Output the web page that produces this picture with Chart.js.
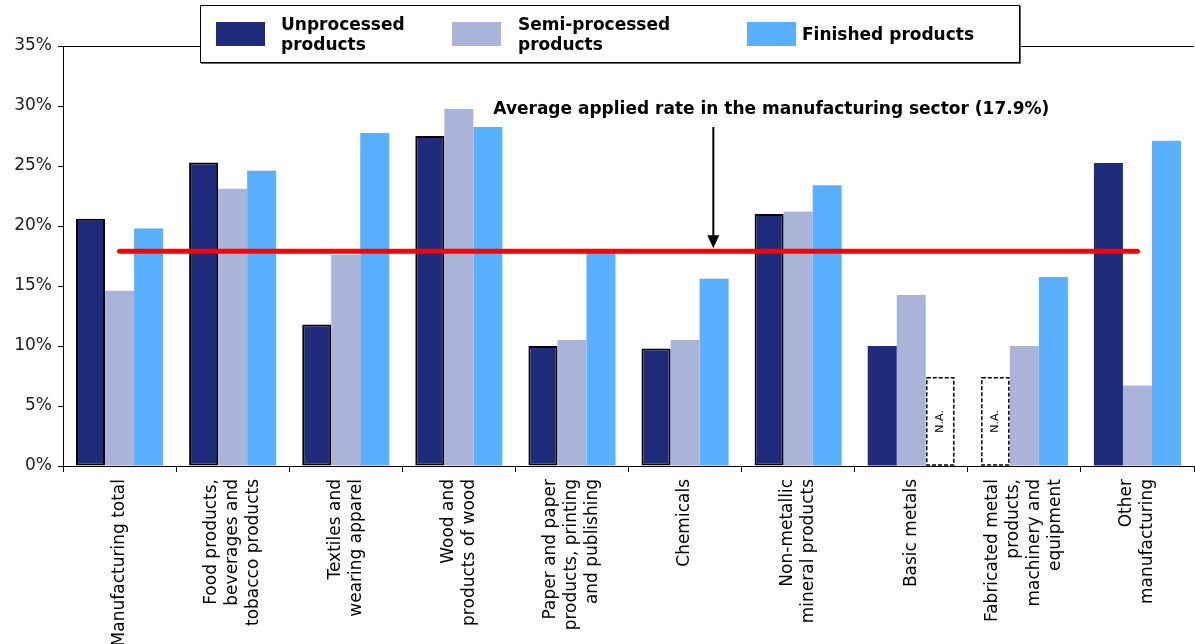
<!DOCTYPE html>
<html>
<head>
<meta charset="utf-8">
<script src="https://cdn.jsdelivr.net/npm/chart.js@4.4.1/dist/chart.umd.min.js"></script>
<style>
html, body { margin: 0; padding: 0; background: #fff; }
#wrap { position: relative; width: 1195px; height: 644px; }
#legendBox {
	position: absolute; left: 200px; top: 5px; width: 818px; height: 56px;
	border: 1px solid #000; box-shadow: 1px 1px 0 #666; background: #fff;
	font: bold 17px "DejaVu Sans", Verdana, sans-serif; color: #000;
}
.item { position: absolute; top: 0; height: 56px; display: flex; align-items: center; }
.swatch { width: 49px; height: 24px; flex: none; }
.txt { line-height: 20px; }
</style>
</head>
<body>
<div id="wrap">
	<canvas id="tariffChart" width="1195" height="644"></canvas>
	<div id="legendBox"></div>
</div>
<script>
// categories (x axis)
const categories = [
	["Manufacturing total"],
	["Food products,", "beverages and", "tobacco products"],
	["Textiles and", "wearing apparel"],
	["Wood and", "products of wood"],
	["Paper and paper", "products, printing", "and publishing"],
	["Chemicals"],
	["Non-metallic", "mineral products"],
	["Basic metals"],
	["Fabricated metal", "products,", "machinery and", "equipment"],
	["Other", "manufacturing"]
];

const seriesNames = ["Unprocessed\nproducts", "Semi-processed\nproducts", "Finished products"];

// applied rates, % (null = N.A.)
const unprocessed = [20.6, 25.3, 11.8, 27.5, 10.0, 9.8, 21.0, 10.0, null, 25.25];
const semiProcessed = [14.6, 23.1, 17.6, 29.75, 10.5, 10.5, 21.2, 14.25, 10.0, 6.7];
const finished = [19.8, 24.6, 27.75, 28.25, 17.8, 15.6, 23.4, null, 15.75, 27.1];

// manufacturing average
const avgLabel = "Average applied rate in the manufacturing sector (17.9%)";
const avgLine = [17.9, 17.9, 17.9, 17.9, 17.9, 17.9, 17.9, 17.9, 17.9, 17.9];

// height of the dashed N.A. boxes
const naHeight = 7.35;

// y axis ticks
const yMin = 0;
const yMax = 35;
const yStep = 5;

const seriesColors = ["#1f2b7b", "#aab3d8", "#58b0ff"];
const outlinedGroups = [0, 1, 2, 3, 4, 5, 6];

// legend (html, two-line labels)
let legendBox = document.getElementById("legendBox");
let legendPos = [[15, 80], [251, 317], [546, 601]];
seriesNames.forEach((name, i) => {
	let sw = "<div class=\"item\" style=\"left:" + legendPos[i][0] + "px\"><div class=\"swatch\" style=\"background:" + seriesColors[i] + "\"></div></div>";
	let tx = "<div class=\"item\" style=\"left:" + legendPos[i][1] + "px\"><div class=\"txt\">" + name.replace("\n", "<br>") + "</div></div>";
	legendBox.innerHTML += sw + tx;
});

Chart.defaults.font.family = '"DejaVu Sans", Verdana, sans-serif';
Chart.defaults.color = "#000";

const extrasPlugin = {
	id: "extras",
	afterDatasetsDraw(chart) {
		const ctx = chart.ctx;
		const area = chart.chartArea;
		const yScale = chart.scales.y;
		const xScale = chart.scales.x;

		// top frame line
		ctx.save();
		ctx.strokeStyle = "#000";
		ctx.lineWidth = 1;
		ctx.beginPath();
		ctx.moveTo(area.left, area.top + 0.5);
		ctx.lineTo(area.right, area.top + 0.5);
		ctx.stroke();

		// N.A. boxes
		[0, 1, 2].forEach(di => {
			let meta = chart.getDatasetMeta(di);
			chart.data.datasets[di].data.forEach((v, j) => {
				if (v !== null) return;
				let el = meta.data[j];
				let x0 = el.x - el.width / 2 + 1;
				let x1 = el.x + el.width / 2 - 1;
				let y0 = yScale.getPixelForValue(naHeight);
				let y1 = yScale.getPixelForValue(0) - 1;
				ctx.setLineDash([4, 2]);
				ctx.lineWidth = 1.5;
				ctx.strokeStyle = "#000";
				ctx.fillStyle = "#fff";
				ctx.fillRect(x0, y0, x1 - x0, y1 - y0);
				ctx.strokeRect(x0, y0, x1 - x0, y1 - y0);
				ctx.setLineDash([]);
				ctx.save();
				ctx.translate(el.x, (y0 + y1) / 2);
				ctx.rotate(-Math.PI / 2);
				ctx.fillStyle = "#000";
				ctx.font = '11px "DejaVu Sans", Verdana, sans-serif';
				ctx.textAlign = "center";
				ctx.textBaseline = "middle";
				ctx.fillText("N.A.", 0, 0);
				ctx.restore();
			});
		});

		// category labels, rotated, block centred on the tick
		ctx.fillStyle = "#000";
		ctx.font = '17px "DejaVu Sans", Verdana, sans-serif';
		ctx.textAlign = "right";
		ctx.textBaseline = "middle";
		let lh = 21;
		categories.forEach((lines, i) => {
			let cx = xScale.getPixelForValue(i);
			lines.forEach((line, k) => {
				ctx.save();
				ctx.translate(cx + (k - (lines.length - 1) / 2) * lh, area.bottom + 13);
				ctx.rotate(-Math.PI / 2);
				ctx.fillText(line, 0, 0);
				ctx.restore();
			});
		});

		// arrow + label for the average line
		let ax = xScale.getPixelForValue(5.25);
		let tipY = yScale.getPixelForValue(avgLine[0]) - 3;
		ctx.strokeStyle = "#000";
		ctx.fillStyle = "#000";
		ctx.lineWidth = 2;
		ctx.beginPath();
		ctx.moveTo(ax, 127);
		ctx.lineTo(ax, tipY - 10);
		ctx.stroke();
		ctx.beginPath();
		ctx.moveTo(ax - 6, tipY - 13);
		ctx.lineTo(ax + 6, tipY - 13);
		ctx.lineTo(ax, tipY);
		ctx.closePath();
		ctx.fill();
		ctx.font = 'bold 17px "DejaVu Sans", Verdana, sans-serif';
		ctx.textAlign = "center";
		ctx.textBaseline = "alphabetic";
		ctx.fillText(avgLabel, ax + 58, 114);
		ctx.restore();
	}
};

var ctx = document.getElementById("tariffChart").getContext("2d");
var tariffChart = new Chart(ctx, {
	type: "bar",
	data: {
		labels: categories,
		datasets: [{
			label: seriesNames[0],
			data: unprocessed,
			backgroundColor: seriesColors[0],
			borderColor: "#000",
			borderWidth: c => outlinedGroups.includes(c.dataIndex) ? 2 : 0,
			borderSkipped: false,
			order: 1
		}, {
			label: seriesNames[1],
			data: semiProcessed,
			backgroundColor: seriesColors[1],
			borderWidth: 0,
			order: 1
		}, {
			label: seriesNames[2],
			data: finished,
			backgroundColor: seriesColors[2],
			borderWidth: 0,
			order: 1
		}, {
			type: "line",
			label: "average",
			data: avgLine,
			borderColor: "#ff0000",
			borderWidth: 5,
			borderCapStyle: "round",
			pointRadius: 0,
			fill: false,
			order: 0
		}]
	},
	options: {
		responsive: false,
		animation: false,
		layout: { padding: { top: 46, right: 1, left: 0, bottom: 0 } },
		datasets: {
			bar: { categoryPercentage: 0.77, barPercentage: 1.0 }
		},
		scales: {
			x: {
				afterFit: function(scale) { scale.height = 178; },
				grid: { display: true, drawOnChartArea: false, drawTicks: true, tickLength: 6, color: "#000" },
				border: { display: true, color: "#000", width: 1 },
				ticks: { display: false, autoSkip: false }
			},
			y: {
				min: yMin,
				max: yMax,
				afterFit: function(scale) { scale.width = 63; },
				grid: { display: true, drawOnChartArea: false, drawTicks: true, tickLength: 5, color: "#000" },
				border: { display: true, color: "#000", width: 1 },
				ticks: {
					stepSize: yStep,
					padding: 6,
					font: { size: 17 },
					color: "#222",
					callback: function(v) { return v + "%"; }
				}
			}
		},
		plugins: {
			legend: { display: false },
			tooltip: { enabled: false }
		}
	},
	plugins: [extrasPlugin]
});
</script>
</body>
</html>
